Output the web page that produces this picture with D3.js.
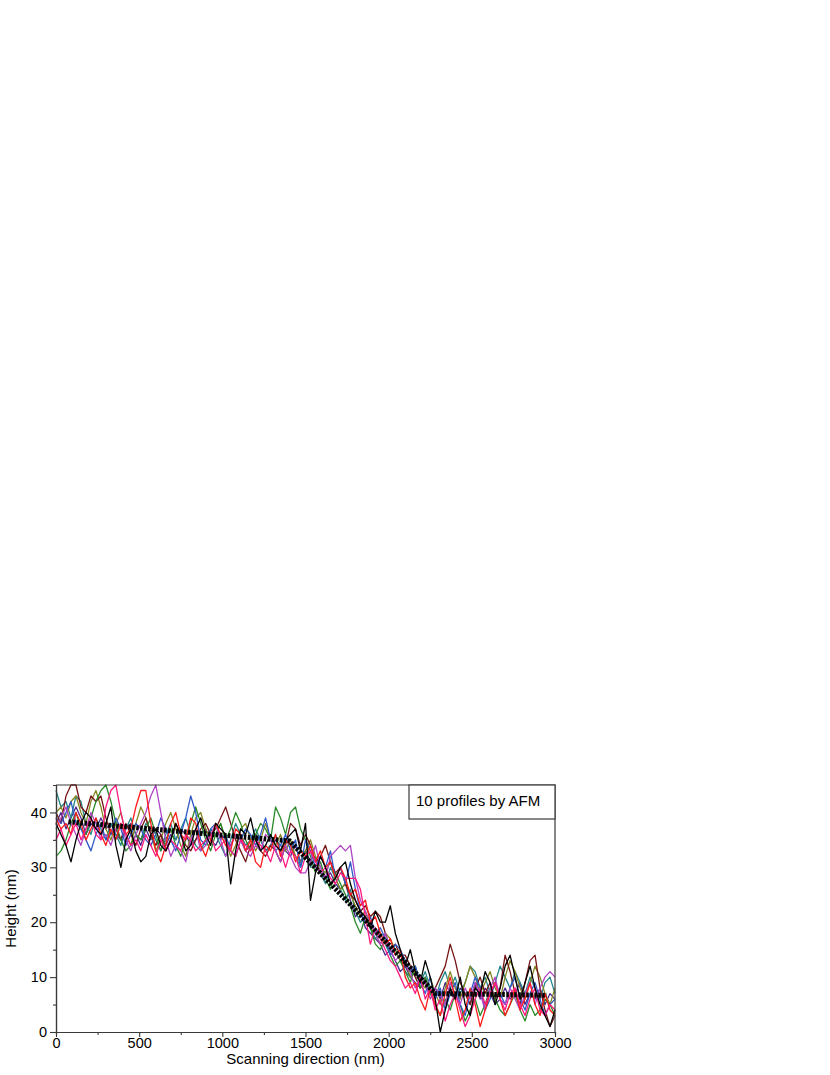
<!DOCTYPE html>
<html>
<head>
<meta charset="utf-8">
<script src="https://cdn.jsdelivr.net/npm/d3@7"></script>
<style>
	body { margin: 0; background: #fff; }
	svg { display: block; font-family: "Liberation Sans", Arial, sans-serif; }
</style>
</head>
<body>
<div id="chart"></div>
<script>
// Data
// ----

// sampling step along the scan (nm)
const xStep = 30;

const profileColors = ['#000000', '#ff1a1a', '#2e58c8', '#b043c4', '#858522',
	'#751515', '#23868a', '#2a8a2a', '#ff1a80', '#4b2a8a'];

const profileBlack = [38, 36, 34, 31, 35, 38, 40, 39, 37, 36,
	38, 41, 34, 30, 35, 37, 33, 31, 32, 36,
	37, 34, 33, 35, 38, 36, 33, 34, 37, 39,
	36, 34, 38, 37, 36, 27, 33, 37, 36, 39,
	35, 33, 34, 36, 34, 33, 35, 36, 37, 33,
	38, 24, 29, 32, 30, 27, 28, 30, 31, 27,
	24, 22, 21, 19, 22, 20, 20, 23, 18, 15,
	12, 15, 11, 9, 13, 10, 6, 0, 4, 8,
	6, 10, 5, 3, 8, 7, 11, 9, 5, 8,
	12, 14, 10, 6, 9, 12, 8, 5, 3, 1, 4];

const profileRed = [39, 37, 38, 36, 40, 38, 35, 37, 39, 36,
	34, 37, 35, 38, 36, 37, 41, 44, 44, 38,
	33, 31, 34, 38, 40, 36, 35, 39, 38, 34,
	32, 35, 38, 36, 34, 33, 37, 36, 33, 35,
	31, 30, 34, 33, 36, 32, 35, 34, 31, 33,
	32, 34, 31, 33, 30, 31, 28, 30, 28, 25,
	26, 23, 24, 20, 21, 18, 16, 17, 14, 15,
	10, 8, 9, 6, 4, 8, 5, 3, 7, 10,
	6, 2, 4, 8, 5, 1, 4, 7, 9, 6,
	3, 5, 8, 4, 6, 9, 5, 3, 7, 4, 3];

const profileBlue = [39, 38, 40, 42, 38, 37, 35, 33, 36, 38,
	35, 36, 39, 37, 34, 36, 38, 37, 35, 34,
	36, 39, 37, 35, 33, 36, 39, 43, 40, 35,
	34, 37, 38, 35, 36, 33, 32, 35, 37, 36,
	34, 36, 39, 35, 33, 34, 36, 33, 35, 30,
	35, 33, 30, 32, 30, 33, 28, 30, 27, 31,
	26, 22, 20, 21, 18, 19, 17, 14, 16, 15,
	13, 11, 12, 9, 7, 10, 6, 8, 4, 7,
	9, 5, 3, 7, 10, 8, 4, 6, 9, 7,
	5, 8, 10, 6, 4, 7, 9, 6, 3, 5, 6];

const profileMagenta = [37, 39, 41, 38, 36, 34, 37, 40, 38, 35,
	36, 34, 37, 38, 35, 33, 36, 38, 40, 43,
	45, 40, 35, 32, 34, 33, 31, 35, 37, 33,
	34, 36, 38, 35, 32, 34, 36, 35, 33, 32,
	34, 33, 36, 35, 33, 31, 34, 32, 30, 29,
	29, 31, 34, 30, 28, 32, 33, 34, 33, 34,
	28, 24, 22, 20, 18, 16, 18, 15, 13, 14,
	12, 11, 8, 10, 9, 6, 8, 7, 5, 9,
	7, 5, 8, 6, 9, 7, 4, 8, 10, 6,
	5, 8, 6, 4, 7, 9, 5, 8, 10, 11, 10];

const profileOlive = [40, 41, 39, 42, 43, 40, 38, 42, 44, 41,
	37, 35, 38, 40, 36, 34, 38, 41, 39, 36,
	33, 35, 38, 40, 37, 34, 32, 36, 39, 40,
	37, 35, 36, 38, 35, 32, 34, 37, 38, 35,
	33, 35, 38, 35, 34, 36, 33, 35, 32, 31,
	33, 35, 32, 30, 29, 31, 28, 26, 27, 25,
	23, 21, 22, 19, 18, 16, 18, 17, 15, 13,
	13, 10, 11, 9, 8, 10, 7, 5, 8, 11,
	8, 6, 9, 12, 10, 7, 9, 11, 8, 6,
	10, 13, 11, 8, 6, 9, 12, 10, 7, 5, 8];

const profileWine = [40, 38, 43, 45, 45, 41, 40, 43, 42, 43,
	39, 36, 37, 35, 38, 36, 34, 37, 39, 36,
	34, 36, 33, 35, 38, 36, 34, 33, 35, 37,
	38, 36, 37, 39, 41, 38, 35, 33, 31, 34,
	36, 33, 32, 34, 33, 31, 34, 38, 37, 34,
	36, 34, 31, 32, 34, 31, 29, 30, 27, 25,
	24, 22, 23, 21, 22, 21, 18, 15, 16, 14,
	14, 12, 10, 8, 9, 7, 8, 10, 12, 16,
	13, 9, 7, 5, 8, 10, 7, 9, 6, 8,
	14, 11, 7, 5, 9, 13, 14, 8, 4, 1, 3];

const profileTeal = [44, 41, 42, 39, 43, 42, 38, 36, 39, 37,
	35, 38, 36, 34, 37, 39, 36, 35, 38, 37,
	35, 33, 36, 38, 35, 37, 39, 36, 34, 33,
	35, 37, 36, 34, 32, 35, 38, 36, 34, 35,
	37, 35, 33, 34, 36, 33, 35, 34, 32, 30,
	33, 30, 32, 29, 27, 30, 28, 26, 24, 26,
	22, 20, 21, 19, 17, 18, 16, 14, 15, 13,
	11, 10, 12, 9, 11, 8, 6, 9, 11, 8,
	10, 7, 9, 12, 11, 8, 10, 7, 9, 12,
	10, 8, 11, 9, 7, 10, 8, 6, 9, 10, 7];

const profileGreen = [32, 33, 35, 38, 40, 37, 36, 39, 42, 44,
	45, 42, 38, 35, 33, 34, 36, 35, 37, 39,
	36, 33, 35, 37, 34, 32, 35, 38, 41, 38,
	35, 33, 36, 38, 35, 37, 40, 38, 35, 33,
	36, 38, 37, 35, 41, 39, 36, 40, 41, 37,
	35, 32, 29, 31, 28, 26, 29, 27, 25, 23,
	20, 18, 21, 19, 16, 15, 17, 14, 12, 13,
	11, 9, 12, 8, 10, 7, 5, 3, 6, 4,
	7, 5, 2, 4, 6, 3, 5, 8, 6, 4,
	3, 5, 7, 4, 2, 5, 3, 4, 6, 5, 3];

const profilePink = [35, 37, 34, 36, 38, 35, 37, 39, 36, 35,
	41, 44, 45, 40, 36, 34, 35, 33, 36, 34,
	32, 35, 33, 35, 34, 33, 36, 35, 33, 34,
	35, 36, 33, 34, 35, 33, 32, 35, 34, 33,
	35, 34, 33, 31, 34, 33, 30, 33, 32, 29,
	32, 33, 31, 29, 30, 28, 27, 29, 28, 28,
	28, 26, 21, 16, 19, 17, 15, 13, 12, 10,
	8, 9, 7, 10, 6, 8, 4, 6, 2, 5,
	7, 4, 1, 3, 6, 8, 5, 7, 9, 6,
	4, 7, 8, 5, 3, 6, 8, 4, 3, 5, 4];

const profileIndigo = [38, 40, 37, 39, 41, 39, 36, 38, 37, 39,
	37, 38, 36, 35, 37, 38, 36, 34, 37, 35,
	37, 36, 34, 36, 35, 37, 36, 34, 35, 36,
	37, 35, 34, 36, 35, 34, 36, 35, 33, 34,
	36, 35, 33, 34, 35, 34, 33, 32, 34, 31,
	33, 31, 30, 29, 28, 29, 27, 26, 27, 24,
	21, 22, 19, 18, 17, 16, 14, 15, 13, 11,
	12, 10, 9, 8, 10, 7, 8, 6, 9, 7,
	6, 8, 7, 5, 9, 6, 8, 7, 5, 6,
	8, 6, 7, 9, 5, 7, 6, 8, 5, 7, 6];

// drawn back to front
const profiles = [profileIndigo, profileTeal, profileOlive, profileWine, profileGreen,
	profileBlue, profileMagenta, profileRed, profilePink, profileBlack];
const profileColorIdx = [9, 6, 4, 5, 7, 2, 3, 1, 8, 0];

// fitted average profile (thick dotted line)
const fitX = [75, 1405, 2280, 2950];
const fitY = [38.3, 34.8, 7.0, 6.7];

const xTicks = [0, 500, 1000, 1500, 2000, 2500, 3000];
const yTicks = [0, 10, 20, 30, 40];
const legendText = '10 profiles by AFM';
const xTitle = 'Scanning direction (nm)';
const yTitle = 'Height (nm)';


class ProfilePlot {

	constructor(mainDivId) {
		this.margin = {top: 785, right: 275, bottom: 43, left: 56};
		this.totalWidth = 830;
		this.totalHeight = 1075;
		this.width = this.totalWidth - this.margin.left - this.margin.right;
		this.height = this.totalHeight - this.margin.top - this.margin.bottom;

		this.x = d3.scaleLinear().domain([0, 3000]).range([0, this.width]);
		this.y = d3.scaleLinear().domain([0, 45]).range([this.height, 0]);

		this.svg = d3.select('#' + mainDivId)
			.append('svg')
				.attr('width', this.totalWidth)
				.attr('height', this.totalHeight)
			.append('g')
				.attr('transform', 'translate(' + this.margin.left + ',' + this.margin.top + ')');
	}

	draw() {
		this.drawProfiles();
		this.drawFit();
		this.drawFrame();
		this.drawAxes();
		this.drawAxisLabels();
		this.drawLegend();
	}

	drawProfiles() {
		let line = d3.line()
			.x((d, i) => this.x(i * xStep))
			.y(d => this.y(d));
		profiles.forEach((p, k) => {
			this.svg.append('path')
				.datum(p)
				.attr('fill', 'none')
				.attr('stroke', profileColors[profileColorIdx[k]])
				.attr('stroke-width', 1.3)
				.attr('stroke-linejoin', 'round')
				.attr('d', line);
		});
	}

	drawFit() {
		let datum = d3.zip(fitX, fitY);
		this.svg.append('path')
			.datum(datum)
			.attr('fill', 'none')
			.attr('stroke', '#000')
			.attr('stroke-width', 5)
			.attr('stroke-dasharray', '2.5,1.5')
			.attr('d', d3.line()
				.x(d => this.x(d[0]))
				.y(d => this.y(d[1]))
			);
	}

	drawFrame() {
		this.svg.append('path')
			.attr('fill', 'none')
			.attr('stroke', '#3a3a3a')
			.attr('stroke-width', 1.2)
			.attr('d', 'M0,0H' + this.width + 'V' + this.height);
	}

	drawAxes() {
		// minor ticks first, majors on top
		let xMinor = d3.axisBottom(this.x).tickValues(d3.range(250, 3000, 500)).tickSize(3).tickFormat('');
		let yMinor = d3.axisLeft(this.y).tickValues(d3.range(5, 45, 10)).tickSize(3).tickFormat('');
		let xAxis = d3.axisBottom(this.x).tickValues(xTicks).tickFormat(d3.format('d'))
			.tickSize(5).tickPadding(1).tickSizeOuter(0);
		let yAxis = d3.axisLeft(this.y).tickValues(yTicks).tickFormat(d3.format('d'))
			.tickSize(6).tickPadding(3).tickSizeOuter(0);

		let gx = this.svg.append('g').attr('transform', 'translate(0,' + this.height + ')');
		gx.append('g').call(xMinor);
		gx.append('g').call(xAxis);
		let gy = this.svg.append('g');
		gy.append('g').call(yMinor);
		gy.append('g').call(yAxis);

		this.svg.selectAll('.domain').attr('stroke', '#3a3a3a').attr('stroke-width', 1.2);
		this.svg.selectAll('.tick line').attr('stroke', '#3a3a3a').attr('stroke-width', 1.1);
		this.svg.selectAll('.tick text')
			.style('font-size', '14.5px')
			.style('font-family', '"Liberation Sans", Arial, sans-serif')
			.attr('fill', '#000');
	}

	drawAxisLabels() {
		// x-label
		this.svg.append('text')
			.attr('x', this.width / 2)
			.attr('y', this.height + 32)
			.style('text-anchor', 'middle')
			.style('font-size', '15px')
			.text(xTitle);

		// y-label
		this.svg.append('text')
			.attr('transform', 'rotate(-90)')
			.attr('x', -this.height / 2)
			.attr('y', -40)
			.style('text-anchor', 'middle')
			.style('font-size', '15px')
			.text(yTitle);
	}

	drawLegend() {
		let bw = 146, bh = 34;
		this.svg.append('rect')
			.attr('x', this.width - bw)
			.attr('y', 0)
			.attr('width', bw)
			.attr('height', bh)
			.attr('fill', '#fff')
			.attr('stroke', '#3a3a3a')
			.attr('stroke-width', 1.2);
		this.svg.append('text')
			.attr('x', this.width - bw + 7)
			.attr('y', 21)
			.style('font-size', '15px')
			.text(legendText);
	}
}

let plot = new ProfilePlot('chart');
plot.draw();
</script>
</body>
</html>
